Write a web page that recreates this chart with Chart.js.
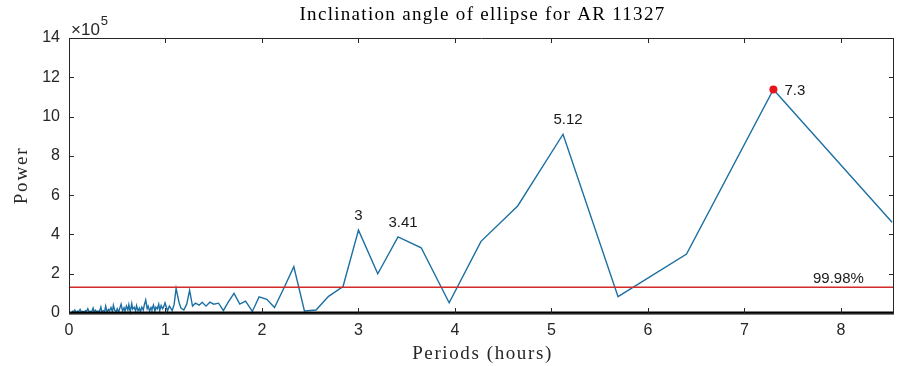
<!DOCTYPE html>
<html>
<head>
<meta charset="utf-8">
<title>Inclination angle of ellipse for AR 11327</title>
<script src="https://cdn.jsdelivr.net/npm/chart.js@4.4.1/dist/chart.umd.min.js"></script>
<style>
  html, body { margin: 0; padding: 0; background: #ffffff; }
  #wrap { width: 898px; height: 366px; position: relative; }
</style>
</head>
<body>
<div id="wrap"><canvas id="c" width="898" height="366"></canvas></div>
<script>
// Periodogram of the ellipse inclination angle (power in units of 1e5)
const periods = [
  0.03, 0.045, 0.06, 0.075, 0.09, 0.10, 0.115, 0.13, 0.14, 0.155,
  0.17, 0.18, 0.195, 0.21, 0.22, 0.235, 0.25, 0.26, 0.275, 0.29,
  0.30, 0.315, 0.33, 0.34, 0.355, 0.37, 0.38, 0.395, 0.41, 0.42,
  0.435, 0.45, 0.46, 0.475, 0.49, 0.50, 0.515, 0.53, 0.54, 0.555,
  0.57, 0.58, 0.595, 0.61, 0.62, 0.635, 0.65, 0.66, 0.675, 0.69,
  0.70, 0.715, 0.73, 0.74, 0.755, 0.77, 0.78, 0.795, 0.81, 0.82,
  0.835, 0.85, 0.86, 0.875, 0.89, 0.90, 0.915, 0.93, 0.94, 0.955,
  0.97, 0.98, 0.995, 1.01, 1.02, 1.04, 1.07, 1.09, 1.11, 1.14,
  1.16, 1.19, 1.22, 1.25, 1.28, 1.31, 1.35, 1.38, 1.42, 1.46,
  1.50, 1.55, 1.60, 1.65, 1.71, 1.77, 1.83, 1.90, 1.97, 2.05,
  2.13, 2.23, 2.33, 2.44, 2.56, 2.69, 2.84, 3.0, 3.2, 3.41,
  3.65, 3.94, 4.27, 4.65, 5.12, 5.69, 6.4, 7.3, 8.53
];
const power = [
  0.12, 0.05, 0.15, 0.04, 0.10, 0.06, 0.18, 0.03, 0.08, 0.05,
  0.12, 0.07, 0.22, 0.04, 0.09, 0.06, 0.25, 0.05, 0.14, 0.03,
  0.10, 0.06, 0.30, 0.04, 0.12, 0.08, 0.35, 0.05, 0.18, 0.10,
  0.28, 0.06, 0.40, 0.12, 0.08, 0.22, 0.05, 0.30, 0.45, 0.10,
  0.26, 0.08, 0.35, 0.15, 0.42, 0.06, 0.48, 0.20, 0.30, 0.10,
  0.38, 0.12, 0.25, 0.05, 0.30, 0.15, 0.40, 0.66, 0.22, 0.35,
  0.10, 0.28, 0.18, 0.40, 0.08, 0.30, 0.20, 0.45, 0.12, 0.38,
  0.22, 0.30, 0.52, 0.28, 0.10, 0.35, 0.12, 0.45, 1.25, 0.55,
  0.25, 0.15, 0.45, 1.15, 0.35, 0.50, 0.40, 0.55, 0.35, 0.55,
  0.45, 0.50, 0.12, 0.55, 1.00, 0.45, 0.60, 0.08, 0.82, 0.70,
  0.28, 1.30, 2.36, 0.10, 0.15, 0.85, 1.35, 4.22, 2.00, 3.87,
  3.32, 0.52, 3.65, 5.45, 9.10, 0.83, 3.00, 11.38, 4.62
];

// Axis ranges and ticks
const xMax = 8.55;
const xTicks = [0, 1, 2, 3, 4, 5, 6, 7, 8];
const yTicks = [0, 2, 4, 6, 8, 10, 12, 14];

// Significance level
const threshold = 1.31;
const thresholdLabel = '99.98%';

// Labelled peaks (periods in hours) and the highest one
const labelledPeaks = [3.0, 3.41, 5.12];
const strongestPeak = 7.3;

const pts = periods.map((p, i) => ({ x: p, y: power[i] }));
const powerAt = p => power[periods.indexOf(p)];

const AXIS = '#262626';
const SANS = '"Liberation Sans", Arial, sans-serif';
const SERIF = '"Liberation Serif", "Times New Roman", serif';

// serif text set a little wider, in the manner of Computer Modern
function wideText(ctx, text, x, y, spacing) {
  ctx.letterSpacing = spacing + 'px';
  ctx.fillText(text, x, y);
  ctx.letterSpacing = '0px';
}

const decor = {
  id: 'decor',
  afterDraw(chart) {
    const ctx = chart.ctx;
    const a = chart.chartArea;
    const xs = chart.scales.x, ys = chart.scales.y;
    ctx.save();

    // axes box
    ctx.strokeStyle = AXIS;
    ctx.lineWidth = 1;
    ctx.beginPath();
    ctx.rect(Math.round(a.left) + 0.5, Math.round(a.top) + 0.5,
             Math.round(a.right - a.left) - 1, Math.round(a.bottom - a.top));
    ctx.stroke();

    // inward tick marks
    const tl = 5;
    ctx.beginPath();
    xTicks.forEach(v => {
      const px = Math.round(xs.getPixelForValue(v)) + 0.5;
      ctx.moveTo(px, a.bottom); ctx.lineTo(px, a.bottom - tl);
      ctx.moveTo(px, a.top); ctx.lineTo(px, a.top + tl);
    });
    yTicks.forEach(v => {
      const py = Math.round(ys.getPixelForValue(v)) + 0.5;
      ctx.moveTo(a.left, py); ctx.lineTo(a.left + tl, py);
      ctx.moveTo(a.right, py); ctx.lineTo(a.right - tl, py);
    });
    ctx.stroke();

    // title and axis titles
    ctx.fillStyle = '#000';
    ctx.textAlign = 'center';
    ctx.textBaseline = 'middle';
    ctx.font = '19px ' + SERIF;
    wideText(ctx, 'Inclination angle of ellipse for AR 11327', (a.left + a.right) / 2 + 1, 15, 1.3);
    ctx.fillStyle = AXIS;
    wideText(ctx, 'Periods (hours)', (a.left + a.right) / 2 + 1, 354, 1.6);
    ctx.save();
    ctx.translate(22, (a.top + a.bottom) / 2);
    ctx.rotate(-Math.PI / 2);
    wideText(ctx, 'Power', 0, 0, 1.8);
    ctx.restore();

    // exponent of the power axis
    ctx.textAlign = 'left';
    ctx.font = '17px ' + SANS;
    ctx.fillText('\u00d710', 71, 30);
    const w = ctx.measureText('\u00d710').width;
    ctx.font = '13px ' + SANS;
    ctx.fillText('5', 71 + w + 1, 21);

    // peak annotations
    ctx.fillStyle = '#1a1a1a';
    ctx.font = '15px ' + SANS;
    ctx.textAlign = 'center';
    ctx.textBaseline = 'middle';
    labelledPeaks.forEach(p => {
      const px = xs.getPixelForValue(p), py = ys.getPixelForValue(powerAt(p));
      ctx.fillText(String(p), px + (String(p).length > 1 ? 5 : 0), py - 14);
    });
    const sx = xs.getPixelForValue(strongestPeak), sy = ys.getPixelForValue(powerAt(strongestPeak));
    ctx.textAlign = 'left';
    ctx.fillText(String(strongestPeak), sx + 11, sy + 1);

    // significance label
    ctx.textAlign = 'left';
    ctx.fillText(thresholdLabel, xs.getPixelForValue(7.7) + 1, ys.getPixelForValue(threshold) - 8);
    ctx.restore();
  }
};

new Chart(document.getElementById('c'), {
  type: 'line',
  data: {
    datasets: [
      {
        data: [{ x: 0, y: 0 }, { x: xMax, y: 0 }],
        borderColor: '#000', borderWidth: 3, pointRadius: 0, order: 0, clip: 4
      },
      {
        data: [{ x: strongestPeak, y: powerAt(strongestPeak) }],
        showLine: false, pointRadius: 4, pointBackgroundColor: '#e8141a',
        pointBorderColor: '#e8141a', pointBorderWidth: 0, order: 1
      },
      {
        data: [{ x: 0, y: threshold }, { x: xMax, y: threshold }],
        borderColor: '#d42a2a', borderWidth: 1.5, pointRadius: 0, order: 2
      },
      {
        data: pts,
        borderColor: '#1b6fa2', borderWidth: 1.4, pointRadius: 0,
        tension: 0, order: 3, clip: 2
      }
    ]
  },
  options: {
    responsive: false,
    animation: false,
    devicePixelRatio: 1,
    layout: { padding: { top: 38, right: 2, left: 0, bottom: 0 } },
    plugins: { legend: { display: false }, tooltip: { enabled: false } },
    scales: {
      x: {
        type: 'linear', min: 0, max: xMax,
        grid: { display: false, drawTicks: false },
        border: { display: false },
        afterFit(s) { s.height = 53; },
        afterBuildTicks(s) { s.ticks = xTicks.map(v => ({ value: v })); },
        ticks: { color: AXIS, font: { family: SANS, size: 16 }, padding: 8, maxRotation: 0 }
      },
      y: {
        type: 'linear', min: 0, max: 14,
        grid: { display: false, drawTicks: false },
        border: { display: false },
        afterFit(s) { s.width = 69; },
        afterBuildTicks(s) { s.ticks = yTicks.map(v => ({ value: v })); },
        ticks: { color: AXIS, font: { family: SANS, size: 16 }, padding: 9 }
      }
    }
  },
  plugins: [decor]
});
</script>
</body>
</html>
